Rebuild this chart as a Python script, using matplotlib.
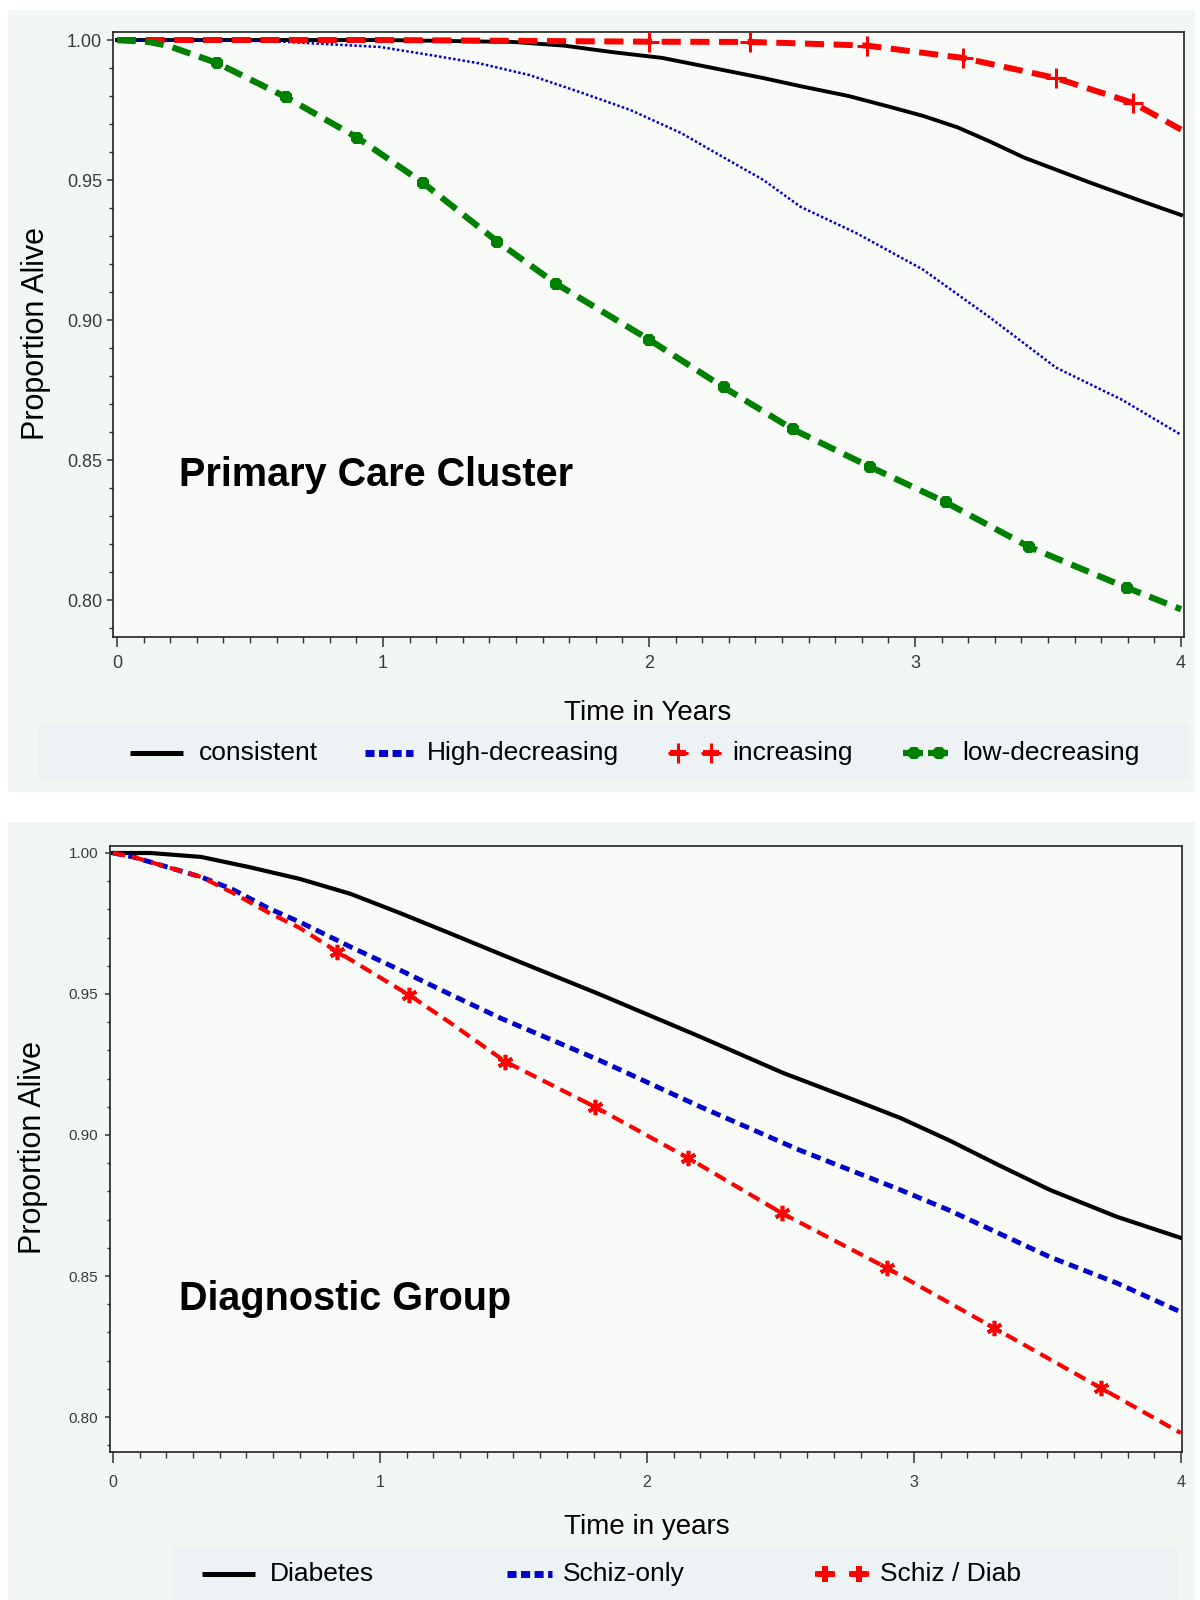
import matplotlib
matplotlib.use("Agg")
import matplotlib.pyplot as plt
from matplotlib.patches import Rectangle
from matplotlib.ticker import MultipleLocator, FormatStrFormatter
import logging
logging.getLogger('matplotlib.font_manager').setLevel(logging.ERROR)

# ---------------- data: top panel (Primary Care Cluster) ----------------
consistent_t = [0, 0.5, 1.0, 1.49, 1.68, 1.86, 2.05, 2.24, 2.43, 2.57, 2.75, 2.91, 3.03, 3.16, 3.28, 3.41, 3.66, 3.85, 4.0]
consistent_s = [1.0, 1.0, 1.0, 0.9993, 0.998, 0.9957, 0.9936, 0.990, 0.9864, 0.9835, 0.980, 0.976, 0.9729, 0.9688, 0.9638, 0.958, 0.949, 0.9425, 0.9375]

highdec_t = [0, 0.3, 0.6, 0.99, 1.18, 1.36, 1.55, 1.74, 1.93, 2.12, 2.30, 2.43, 2.57, 2.78, 3.03, 3.28, 3.53, 3.78, 4.0]
highdec_s = [1.0, 1.0, 0.9995, 0.9975, 0.9946, 0.9917, 0.9875, 0.9814, 0.975, 0.9668, 0.957, 0.950, 0.9404, 0.931, 0.918, 0.901, 0.883, 0.8714, 0.859]

increasing_t = [0, 1.0, 2.0, 2.38, 2.53, 2.82, 3.18, 3.53, 3.82, 4.0]
increasing_s = [1.0, 1.0, 0.9994, 0.9993, 0.9989, 0.998, 0.9936, 0.9864, 0.9775, 0.968]
increasing_marks = [2, 3, 5, 6, 7, 8]

lowdec_t = [0, 0.12, 0.19, 0.376, 0.635, 0.904, 1.15, 1.43, 1.65, 2.0, 2.28, 2.54, 2.83, 3.115, 3.43, 3.796, 4.0]
lowdec_s = [1.0, 0.9993, 0.998, 0.9918, 0.9796, 0.9651, 0.949, 0.928, 0.913, 0.893, 0.876, 0.861, 0.8476, 0.8349, 0.8189, 0.8044, 0.7967]
lowdec_marks = [3, 4, 5, 6, 7, 8, 9, 10, 11, 12, 13, 14, 15]

top_labels = ["consistent", "High-decreasing", "increasing", "low-decreasing"]

# ---------------- data: bottom panel (Diagnostic Group) ----------------
diab_t = [0, 0.14, 0.33, 0.51, 0.70, 0.89, 1.075, 1.26, 1.45, 1.82, 2.20, 2.51, 2.76, 2.95, 3.13, 3.32, 3.51, 3.76, 4.0]
diab_s = [1.0, 1.0, 0.9986, 0.995, 0.9908, 0.9855, 0.9787, 0.9716, 0.9642, 0.950, 0.9348, 0.922, 0.913, 0.906, 0.8982, 0.8892, 0.8805, 0.871, 0.8635]

schiz_t = [0, 0.075, 0.33, 0.45, 0.58, 0.70, 0.89, 1.075, 1.26, 1.45, 1.82, 2.2, 2.57, 2.76, 2.95, 3.13, 3.51, 3.76, 4.0]
schiz_s = [1.0, 0.9986, 0.9915, 0.987, 0.9805, 0.9755, 0.9667, 0.9585, 0.950, 0.9415, 0.9266, 0.910, 0.8947, 0.8876, 0.8805, 0.8734, 0.8567, 0.8475, 0.8372]

sd_t = [0, 0.075, 0.33, 0.45, 0.58, 0.70, 0.84, 1.11, 1.26, 1.47, 1.805, 2.155, 2.505, 2.90, 3.30, 3.70, 4.0]
sd_s = [1.0, 0.9986, 0.9915, 0.9858, 0.979, 0.9734, 0.965, 0.9496, 0.940, 0.926, 0.910, 0.8918, 0.8723, 0.8528, 0.8316, 0.8103, 0.7943]
sd_marks = [6, 7, 9, 10, 11, 12, 13, 14, 15]

bottom_labels = ["Diabetes", "Schiz-only", "Schiz / Diab"]

yticks = [0.80, 0.85, 0.90, 0.95, 1.00]
xticks = [0, 1, 2, 3, 4]

# ---------------- layout helpers ----------------
W, H = 1200, 1600
def fr(x0, y0, x1, y1):
    return [x0 / W, 1 - y1 / H, (x1 - x0) / W, (y1 - y0) / H]

SANS = ['Liberation Sans', 'DejaVu Sans']
plt.rcParams['font.family'] = SANS

PANEL_BG = '#f3f7f4'
AX_BG = '#f8fbf8'
LEG_BG = '#edf2f5'
RED = '#ff0000'
BLUE = '#0000c8'
GREEN = '#008000'

fig = plt.figure(figsize=(12, 16), dpi=100)
fig.patch.set_facecolor('white')

for (x0, y0, x1, y1), c in [((8, 10, 1195, 792), PANEL_BG), ((8, 822, 1195, 1600), PANEL_BG),
                            ((38, 723, 1189, 780), LEG_BG), ((173, 1547, 1178, 1600), LEG_BG)]:
    l, b, w, h = fr(x0, y0, x1, y1)
    fig.patches.append(Rectangle((l, b), w, h, transform=fig.transFigure,
                                 facecolor=c, edgecolor='none', zorder=-10))


def style_axes(ax, ylim, xlim, ylen, xlen, ypad, xpad, ysize, xsize):
    ax.set_facecolor(AX_BG)
    ax.set_xlim(*xlim)
    ax.set_ylim(*ylim)
    ax.set_yticks(yticks)
    ax.set_xticks(xticks)
    ax.yaxis.set_major_formatter(FormatStrFormatter('%.2f'))
    ax.yaxis.set_minor_locator(MultipleLocator(0.01))
    ax.xaxis.set_minor_locator(MultipleLocator(0.1))
    ax.tick_params(axis='y', which='major', direction='out', length=ylen, width=1.1,
                   color='#333333', pad=ypad, labelsize=ysize, labelcolor='#3a3a3a')
    ax.tick_params(axis='y', which='minor', direction='out', length=ylen * 0.7, width=1.0,
                   color='#333333')
    ax.tick_params(axis='x', which='major', direction='out', length=xlen, width=1.1,
                   color='#333333', pad=xpad, labelsize=xsize, labelcolor='#3a3a3a')
    ax.tick_params(axis='x', which='minor', direction='out', length=xlen * 0.55, width=1.0,
                   color='#333333')
    for sp in ax.spines.values():
        sp.set_linewidth(1.2)
        sp.set_color('#222222')


def legend_axes(box):
    x0, y0, x1, y1 = box
    lg = fig.add_axes(fr(x0, y0, x1, y1))
    lg.set_xlim(x0, x1)
    lg.set_ylim(y1, y0)
    lg.patch.set_alpha(0)
    lg.set_xticks([]); lg.set_yticks([])
    for sp in lg.spines.values():
        sp.set_visible(False)
    return lg


# ---------------- top panel ----------------
ax1 = fig.add_axes(fr(113, 32, 1184, 637))
ax1.plot(consistent_t, consistent_s, color='black', lw=2.8, solid_joinstyle='round', zorder=3)
ax1.plot(highdec_t, highdec_s, color=BLUE, lw=1.8, linestyle=(0, (1.0, 0.9)), zorder=3)
ax1.plot(increasing_t, increasing_s, color=RED, lw=4.3, linestyle=(0, (3.2, 1.6)),
         marker='+', markersize=14, markeredgewidth=2.2, markevery=increasing_marks, zorder=4)
ax1.plot(lowdec_t, lowdec_s, color=GREEN, lw=4.5, linestyle=(0, (3.0, 1.5)),
         marker='8', markersize=10, markeredgewidth=0, markevery=lowdec_marks, zorder=4)
style_axes(ax1, (0.78679, 1.00286), (-0.015, 4.011), 4.3, 7.2, 3.6, 5.8, 13, 13)
ax1.text(0.233, 0.8446, "Primary Care Cluster", fontsize=28.5, fontweight='bold',
         va='center', ha='left', color='black')

fig.text(648 / W, 1 - 713 / H, "Time in Years", fontsize=20, ha='center', va='center')
fig.text(36 / W, 1 - 334 / H, "Proportion Alive", fontsize=22, rotation=90,
         ha='center', va='center')

lg1 = legend_axes((38, 723, 1189, 780))
ly = 753
lg1.plot([130, 183], [ly, ly], color='black', lw=3.6, solid_capstyle='butt')
lg1.text(199, ly, top_labels[0], fontsize=19, va='center', ha='left')
lg1.plot([365, 413], [ly, ly], color=BLUE, lw=5.0, linestyle=(0, (1.3, 0.65)))
lg1.text(427, ly, top_labels[1], fontsize=19, va='center', ha='left')
for cx in (678, 711):
    lg1.plot([cx - 8, cx + 8], [ly, ly], color=RED, lw=4.3, solid_capstyle='butt')
    lg1.plot([cx], [ly], color=RED, lw=0, marker='+', markersize=14, markeredgewidth=2.2)
lg1.text(732, ly, top_labels[2], fontsize=19, va='center', ha='left')
for cx in (914, 939):
    lg1.plot([cx - 11, cx + 9], [ly, ly], color=GREEN, lw=4.5, solid_capstyle='butt')
    lg1.plot([cx], [ly], color=GREEN, lw=0, marker='8', markersize=10, markeredgewidth=0)
lg1.text(962, ly, top_labels[3], fontsize=19, va='center', ha='left')

# ---------------- bottom panel ----------------
ax2 = fig.add_axes(fr(110, 846, 1182, 1452))
ax2.plot(diab_t, diab_s, color='black', lw=3.0, solid_joinstyle='round', zorder=3)
ax2.plot(schiz_t, schiz_s, color=BLUE, lw=3.5, linestyle=(0, (2.0, 1.2)), zorder=3)
ax2.plot(sd_t, sd_s, color=RED, lw=3.0, linestyle=(0, (3.0, 1.7)),
         marker=(6, 2, 0), markersize=11, markeredgewidth=2.6, markevery=sd_marks, zorder=4)
style_axes(ax2, (0.78759, 1.00248), (-0.0112, 4.004), 3.6, 8.0, 5.0, 8.6, 11, 11.5)
ax2.text(0.247, 0.8418, "Diagnostic Group", fontsize=28.5, fontweight='bold',
         va='center', ha='left', color='black')

fig.text(647 / W, 1 - 1527 / H, "Time in years", fontsize=20, ha='center', va='center')
fig.text(33 / W, 1 - 1148 / H, "Proportion Alive", fontsize=22, rotation=90,
         ha='center', va='center')

lg2 = legend_axes((173, 1547, 1178, 1600))
ly2 = 1574
lg2.plot([202, 255], [ly2, ly2], color='black', lw=3.6, solid_capstyle='butt')
lg2.text(270, ly2, bottom_labels[0], fontsize=19, va='center', ha='left')
lg2.plot([507, 552], [ly2, ly2], color=BLUE, lw=5.0, linestyle=(0, (1.3, 0.65)))
lg2.text(563, ly2, bottom_labels[1], fontsize=19, va='center', ha='left')
for cx in (825, 859):
    lg2.plot([cx - 10, cx + 10], [ly2, ly2], color=RED, lw=4.0, solid_capstyle='butt')
    lg2.plot([cx], [ly2], color=RED, lw=0, marker='P', markersize=12, markeredgewidth=0)
lg2.text(880, ly2, bottom_labels[2], fontsize=19, va='center', ha='left')

fig.savefig("out.png", dpi=100, facecolor='white')
